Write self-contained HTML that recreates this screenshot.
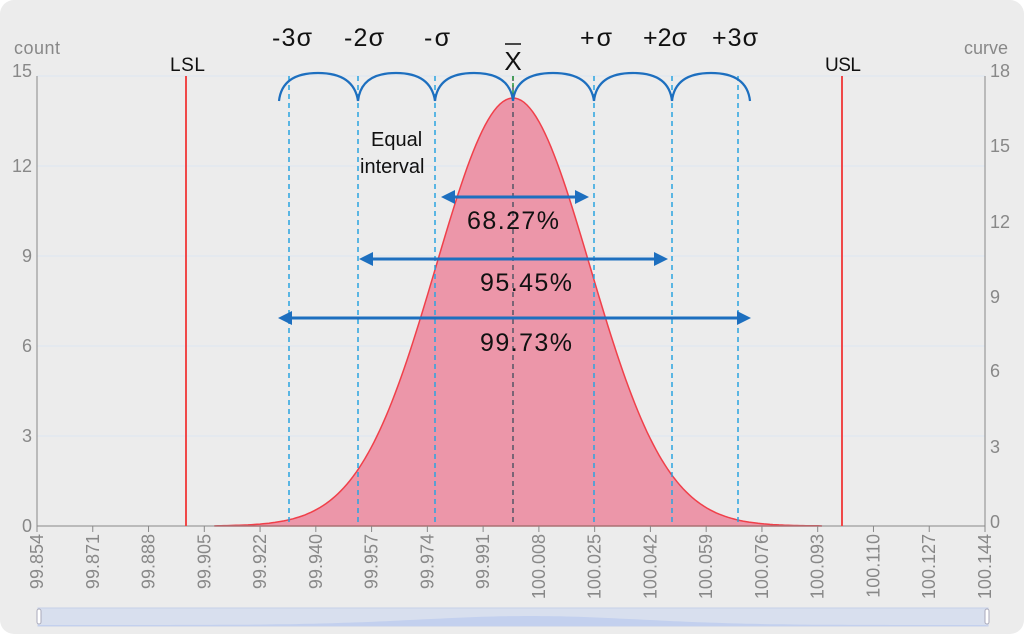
<!DOCTYPE html>
<html><head><meta charset="utf-8"><style>
html,body{margin:0;padding:0;background:#fff}
svg{display:block;font-family:"Liberation Sans",sans-serif}
</style></head><body>
<svg id="s" width="1024" height="634" viewBox="0 0 1024 634">
<rect x="0" y="0" width="1024" height="634" rx="14" fill="#ececec"/>
<g stroke="#dde6f2" stroke-width="1">
<line x1="37" y1="76" x2="985" y2="76"/><line x1="37" y1="166" x2="985" y2="166"/>
<line x1="37" y1="256" x2="985" y2="256"/><line x1="37" y1="346" x2="985" y2="346"/>
<line x1="37" y1="436" x2="985" y2="436"/></g>
<path id="curve" fill="#ec96a9" stroke="#f0404a" stroke-width="1.5"/>
<g stroke="#888" stroke-width="1"><line x1="37" y1="76" x2="37" y2="526"/><line x1="985" y1="76" x2="985" y2="526"/><line x1="37" y1="526" x2="985" y2="526"/></g>
<g id="ticks" stroke="#888"></g>
<g fill="#888" font-size="18">
<text x="14" y="54" textLength="46">count</text><text x="964" y="54" textLength="44">curve</text>
<g text-anchor="end"><text x="32" y="77">15</text><text x="32" y="172">12</text><text x="32" y="262">9</text><text x="32" y="352">6</text><text x="32" y="442">3</text><text x="32" y="532">0</text></g>
<g><text x="990" y="77">18</text><text x="990" y="152">15</text><text x="990" y="228">12</text><text x="990" y="303">9</text><text x="990" y="377">6</text><text x="990" y="453">3</text><text x="990" y="528">0</text></g>
</g>
<g id="xl" fill="#888" font-size="18"></g>
<g stroke="#f04848" stroke-width="2"><line x1="186" y1="76" x2="186" y2="526"/><line x1="842" y1="76" x2="842" y2="526"/></g>
<g font-size="19" fill="#111"><text x="170" y="71" textLength="35">LSL</text><text x="825" y="71" textLength="36">USL</text></g>
<g stroke="#29a3e0" stroke-width="1.5" stroke-dasharray="5,4">
<line x1="289" y1="76" x2="289" y2="526"/><line x1="358" y1="76" x2="358" y2="526"/><line x1="435" y1="76" x2="435" y2="526"/>
<line x1="594" y1="76" x2="594" y2="526"/><line x1="672" y1="76" x2="672" y2="526"/><line x1="738" y1="76" x2="738" y2="526"/></g>
<line x1="513" y1="76" x2="513" y2="526" stroke="#556" stroke-width="1.5" stroke-dasharray="5,4"/>
<line x1="513" y1="76" x2="513" y2="98" stroke="#2a9a40" stroke-width="1.5" stroke-dasharray="4,3"/>
<g fill="none" stroke="#1d6fbf" stroke-width="2.2">
<path d="M279 101 Q282 73 318 73 Q354 73 358 101"/>
<path d="M358 101 Q361 73 396 73 Q431 73 435 101"/>
<path d="M435 101 Q438 73 474 73 Q510 73 513 101"/>
<path d="M513 101 Q516 73 553 73 Q590 73 594 101"/>
<path d="M594 101 Q597 73 633 73 Q669 73 672 101"/>
<path d="M672 101 Q675 73 711 73 Q747 73 750 101"/>
</g>
<g stroke="#1d6fbf" stroke-width="3" fill="#1d6fbf">
<line x1="450" y1="197" x2="580" y2="197"/><path d="M441 197 L455 190 L455 204Z" stroke="none"/><path d="M589 197 L575 190 L575 204Z" stroke="none"/>
<line x1="368" y1="259" x2="660" y2="259"/><path d="M359 259 L373 252 L373 266Z" stroke="none"/><path d="M668 259 L654 252 L654 266Z" stroke="none"/>
<line x1="287" y1="318" x2="742" y2="318"/><path d="M278 318 L292 311 L292 325Z" stroke="none"/><path d="M751 318 L737 311 L737 325Z" stroke="none"/>
</g>
<g font-size="25" fill="#111">
<text x="467" y="229" textLength="92">68.27%</text>
<text x="480" y="291" textLength="92">95.45%</text>
<text x="480" y="351" textLength="92">99.73%</text>
<text x="272" y="46" textLength="40">-3σ</text><text x="344" y="46" textLength="40">-2σ</text><text x="424" y="46" textLength="26">-σ</text>
<text x="580" y="46" textLength="32">+σ</text><text x="643" y="46" textLength="44">+2σ</text><text x="712" y="46" textLength="46">+3σ</text>
<text x="513" y="70" text-anchor="middle" font-size="26">X</text>
</g>
<line x1="505" y1="44" x2="521" y2="44" stroke="#111" stroke-width="1.5"/>
<g font-size="20" fill="#111"><text x="371" y="146">Equal</text><text x="360" y="173">interval</text></g>
<rect x="38" y="608" width="950" height="18" fill="#d8dfee" stroke="#c6d0e8"/>
<path id="mini" fill="#c3d0ee"/>
<rect x="37" y="609" width="4" height="15" rx="2" fill="#fff" stroke="#aab"/>
<rect x="985" y="609" width="4" height="15" rx="2" fill="#fff" stroke="#aab"/>
</svg>
<script>
var m=513,sg=77,d="M215 526",md="M38 626";
for(var x=215;x<=822;x+=3){var y=526-428*Math.exp(-0.5*Math.pow((x-m)/sg,2));d+=" L"+x+" "+y.toFixed(1);}
d+=" L822 526Z";document.getElementById("curve").setAttribute("d",d);
for(var x=38;x<=988;x+=6){var y=625-9*Math.exp(-0.5*Math.pow((x-530)/110,2));md+=" L"+x+" "+y.toFixed(1);}
md+=" L988 626Z";document.getElementById("mini").setAttribute("d",md);
var L=["99.854","99.871","99.888","99.905","99.922","99.940","99.957","99.974","99.991","100.008","100.025","100.042","100.059","100.076","100.093","100.110","100.127","100.144"];
var t="",tk="";
for(var i=0;i<18;i++){var x=37+i*(948/17);tk+='<line x1="'+x+'" y1="526" x2="'+x+'" y2="532"/>';
t+='<text transform="translate('+(x+6)+',534) rotate(-90)" text-anchor="end">'+L[i]+'</text>';}
document.getElementById("ticks").innerHTML=tk;document.getElementById("xl").innerHTML=t;
</script>
</body></html>
